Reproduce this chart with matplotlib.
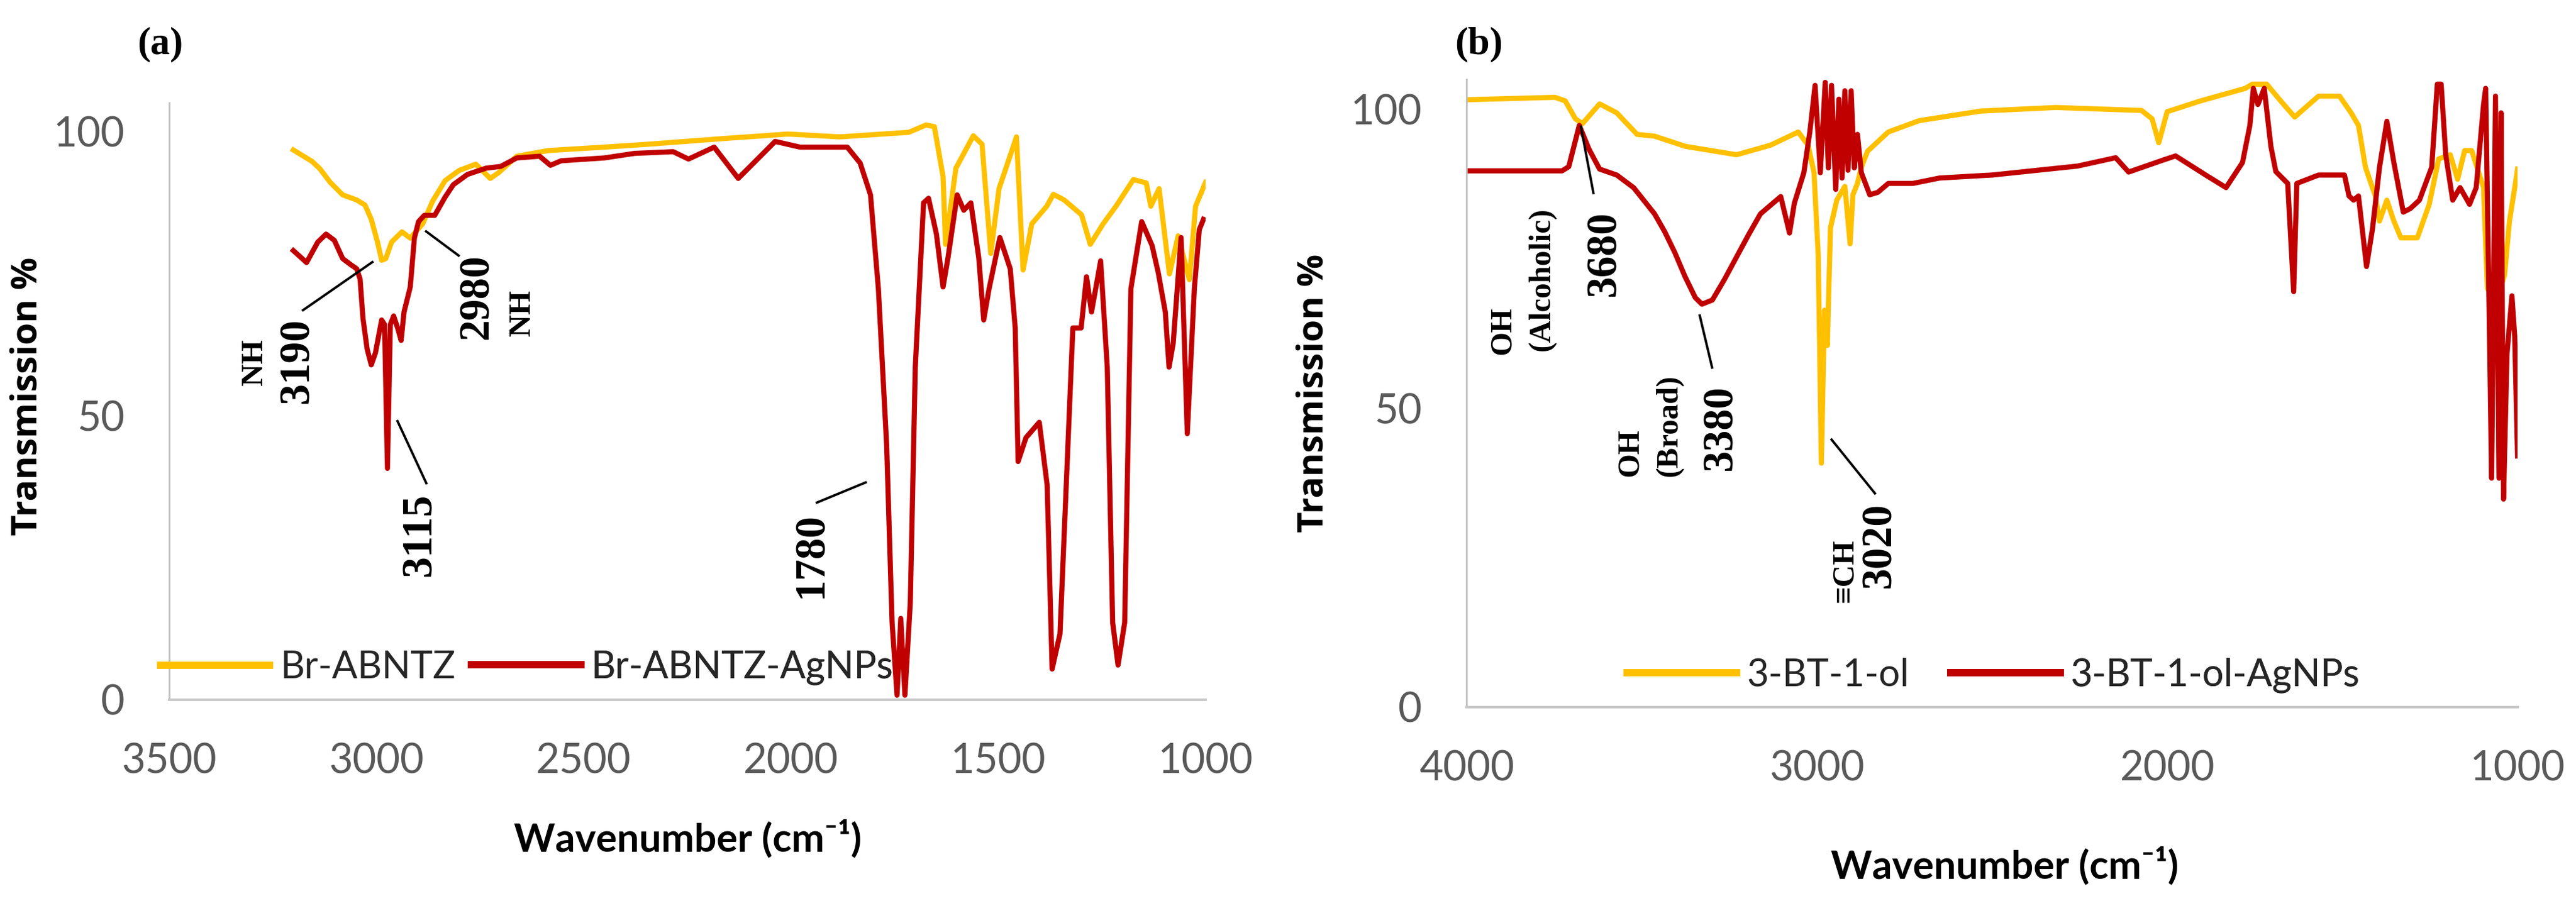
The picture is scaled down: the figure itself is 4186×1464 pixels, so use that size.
import matplotlib
matplotlib.use("Agg")
import matplotlib.pyplot as plt

# ---- data ----
# (a) Br-ABNTZ / Br-ABNTZ-AgNPs
wn_a_base = [3200, 3155, 3136, 3111, 3081, 3047, 3027, 3012, 2997, 2987, 2977, 2963, 2938, 2918,
             2888, 2864, 2834, 2800, 2760, 2725, 2705, 2661, 2585, 2450, 2346, 2164, 2007, 1882,
             1716, 1674, 1654, 1633, 1627, 1602, 1560, 1539, 1518, 1498, 1456, 1440, 1419, 1383,
             1367, 1341, 1299, 1278, 1247, 1216, 1174, 1143, 1132, 1112, 1087, 1066, 1039, 1024, 1000]
t_a_base = [96.7, 94.7, 93.4, 91.0, 88.8, 87.9, 87.0, 84.5, 80.5, 77.3, 77.6, 80.5, 82.3, 81.2,
            83.7, 87.7, 91.3, 93.1, 94.2, 91.7, 92.7, 95.6, 96.6, 97.2, 97.7, 98.7, 99.5, 99.0,
            99.8, 101.1, 100.8, 92.0, 80.1, 93.5, 99.2, 97.7, 78.5, 89.9, 99.0, 75.6, 83.7, 86.8,
            88.9, 87.9, 85.3, 80.1, 83.7, 86.8, 91.5, 90.9, 86.8, 89.9, 74.9, 81.6, 73.9, 86.8, 91.0]

wn_a_ag = [3200, 3168, 3141, 3121, 3101, 3081, 3061, 3047, 3039, 3032, 3022, 3012, 3002, 2987,
           2980, 2973, 2966, 2958, 2948, 2940, 2933, 2918, 2908, 2898, 2884, 2859, 2834, 2814,
           2780, 2735, 2700, 2661, 2606, 2580, 2554, 2450, 2377, 2284, 2247, 2185, 2127, 2038,
           1978, 1864, 1833, 1808, 1789, 1769, 1756, 1744, 1735, 1725, 1712, 1700, 1680, 1668,
           1649, 1633, 1621, 1599, 1583, 1566, 1547, 1535, 1522, 1496, 1471, 1459, 1452, 1433,
           1401, 1382, 1370, 1351, 1320, 1300, 1287, 1275, 1253, 1237, 1224, 1211, 1195, 1180,
           1154, 1129, 1114, 1097, 1088, 1078, 1059, 1044, 1027, 1015, 1005]
t_a_ag = [79.0, 76.9, 80.5, 81.9, 80.8, 77.6, 76.5, 75.8, 74.0, 67.1, 61.7, 58.9, 61.0, 66.8,
          66.0, 40.7, 66.0, 67.5, 65.3, 63.2, 68.2, 72.6, 81.2, 84.1, 85.2, 85.2, 88.4, 90.6,
          92.4, 93.5, 93.8, 95.3, 95.6, 94.0, 94.8, 95.3, 96.1, 96.4, 95.1, 97.2, 91.7, 98.2,
          97.2, 97.2, 94.4, 88.8, 72.3, 44.7, 13.6, 0.8, 14.3, 0.8, 17.1, 58.5, 87.4, 88.2,
          81.9, 72.6, 77.8, 88.8, 86.1, 87.4, 77.8, 66.8, 72.3, 81.3, 75.8, 65.4, 41.9, 46.1,
          48.8, 37.8, 5.4, 11.6, 65.4, 65.4, 74.4, 68.2, 77.2, 58.5, 13.6, 6.1, 13.6, 72.3,
          84.1, 79.9, 75.1, 68.2, 58.5, 62.7, 81.3, 46.8, 72.3, 82.7, 84.5]

# (b) 3-BT-1-ol / 3-BT-1-ol-AgNPs
wn_b_base = [4000, 3747, 3718, 3689, 3669, 3620, 3571, 3513, 3463, 3375, 3229, 3132, 3053, 3025,
             3008, 2996, 2987, 2978, 2970, 2961, 2943, 2920, 2905, 2897, 2884, 2873, 2855, 2796,
             2708, 2532, 2318, 2073, 2043, 2024, 2000, 1905, 1777, 1757, 1716, 1676, 1636, 1609,
             1568, 1508, 1475, 1454, 1434, 1406, 1394, 1373, 1353, 1333, 1286, 1252, 1225, 1192,
             1171, 1151, 1131, 1097, 1086, 1060, 1037, 1023, 1005, 1000]
t_b_base = [101.6, 102.0, 101.4, 98.4, 97.6, 100.9, 99.4, 95.8, 95.5, 93.8, 92.4, 94.0, 96.2, 94.0,
            89.4, 75.6, 40.8, 66.4, 60.5, 80.2, 84.8, 87.1, 77.5, 85.7, 87.6, 90.3, 93.0, 96.2,
            98.1, 99.7, 100.3, 99.8, 98.4, 94.4, 99.6, 101.4, 103.5, 104.2, 104.2, 101.4, 98.7, 100.1,
            102.2, 102.2, 99.4, 97.3, 90.3, 85.5, 81.3, 84.8, 81.3, 78.5, 78.5, 84.1, 91.7, 92.4,
            88.3, 93.1, 93.1, 86.9, 70.0, 68.0, 72.3, 81.3, 88.0, 90.0]

wn_b_ag = [4000, 3727, 3708, 3678, 3650, 3620, 3571, 3523, 3463, 3434, 3405, 3376, 3347, 3328,
           3298, 3264, 3229, 3195, 3161, 3103, 3078, 3064, 3037, 3020, 3005, 2990, 2976, 2967,
           2958, 2946, 2937, 2928, 2920, 2911, 2902, 2893, 2884, 2873, 2849, 2826, 2796, 2726,
           2650, 2532, 2500, 2256, 2147, 2110, 2012, 1976, 1890, 1832, 1785, 1764, 1754, 1741,
           1723, 1704, 1690, 1656, 1639, 1630, 1568, 1494, 1481, 1468, 1454, 1431, 1414, 1394,
           1373, 1353, 1326, 1306, 1280, 1245, 1229, 1218, 1205, 1185, 1164, 1137, 1118, 1097,
           1091, 1081, 1074, 1063, 1053, 1047, 1040, 1030, 1016, 1008, 1000]
t_b_ag = [89.7, 89.7, 90.4, 97.3, 93.3, 90.0, 89.0, 86.9, 82.5, 79.5, 76.0, 72.0, 68.5, 67.4,
          68.1, 71.5, 75.3, 79.0, 82.5, 85.4, 79.3, 84.3, 89.4, 96.2, 104.0, 89.4, 104.5, 90.2,
          104.0, 86.6, 101.7, 88.5, 103.1, 89.8, 103.1, 90.2, 95.8, 89.4, 85.7, 86.1, 87.6, 87.6,
          88.5, 88.9, 89.0, 90.5, 91.9, 89.5, 91.5, 92.2, 89.0, 86.9, 91.1, 97.3, 103.5, 100.8,
          103.5, 93.8, 89.6, 87.6, 69.5, 87.6, 89.0, 89.0, 85.5, 84.8, 85.5, 73.7, 80.0, 90.3,
          98.0, 91.1, 82.8, 83.4, 84.8, 90.3, 104.2, 104.2, 92.4, 84.8, 86.9, 84.1, 86.9, 100.8,
          103.5, 66.1, 38.3, 102.2, 38.3, 99.4, 34.8, 59.1, 68.8, 62.0, 42.0]

labels_a = ["Br-ABNTZ", "Br-ABNTZ-AgNPs"]
labels_b = ["3-BT-1-ol", "3-BT-1-ol-AgNPs"]
xticks_a = [3500, 3000, 2500, 2000, 1500, 1000]
xticks_b = [4000, 3000, 2000, 1000]
yticks = [0, 50, 100]

YEL = "#FFC000"
RED = "#C00000"
LW = 6.0
W, H = 4186, 1464

fig = plt.figure(figsize=(W / 100, H / 100), dpi=100)


def fx(px):
    return px / W


def fy(py):
    return 1 - py / H


def setup(ax, xlim, xticks):
    ax.set_xlim(*xlim)
    ax.set_ylim(0, 105)
    ax.set_xticks(xticks)
    ax.set_yticks(yticks)
    for s in ["top", "right"]:
        ax.spines[s].set_visible(False)
    ax.spines["left"].set_color("#c0c0c0")
    ax.spines["left"].set_linewidth(2)
    ax.spines["bottom"].set_color("#c8c8c8")
    ax.spines["bottom"].set_linewidth(3)
    ax.tick_params(length=0, labelsize=48, labelcolor="#595959")
    ax.tick_params(axis="x", pad=50)
    ax.tick_params(axis="y", pad=52)
    for lab in ax.get_xticklabels() + ax.get_yticklabels():
        lab.set_fontfamily("Lato")


def legend_entry(ax, line, text, xf, yf):
    leg = ax.legend([line], [text], loc="center left", bbox_to_anchor=(xf, yf),
                    frameon=False, borderpad=0, borderaxespad=0, handlelength=2.9,
                    handletextpad=0.28, prop={"family": "Lato", "size": 44})
    leg.get_lines()[0].set_linewidth(8.5)
    for t in leg.get_texts():
        t.set_color("#262626")
    ax.add_artist(leg)


serif = ["Liberation Serif", "DejaVu Serif"]


def note(ax, x, y, s, size=50, rot=90):
    ax.text(x, y, s, rotation=rot, ha="center", va="center", fontsize=size,
            fontweight="bold", family=serif, color="black")


def leader(ax, p, q):
    ax.plot([p[0], q[0]], [p[1], q[1]], color="black", lw=2.8, solid_capstyle="butt")


# ---------- panel (a) ----------
ax1 = fig.add_axes([fx(274.5), fy(1137), fx(1959) - fx(274.5), fy(167) - fy(1137)])
la1, = ax1.plot(wn_a_base, t_a_base, color=YEL, lw=LW, solid_joinstyle="round")
la2, = ax1.plot(wn_a_ag, t_a_ag, color=RED, lw=LW, solid_joinstyle="round")
setup(ax1, (3500, 1000), xticks_a)
legend_entry(ax1, la1, labels_a[0], -0.008, 0.054)
legend_entry(ax1, la2, labels_a[1], 0.292, 0.054)

leader(ax1, (3179, 68.4), (3007, 77.1))
note(ax1, 3189, 59.6, "3190")
note(ax1, 3293, 59.4, "NH", size=36)
leader(ax1, (2882, 82.5), (2799, 78.0))
note(ax1, 2757, 70.8, "2980")
note(ax1, 2648, 68.0, "NH", size=36)
leader(ax1, (2950, 49.2), (2878, 37.9))
note(ax1, 2894, 29.0, "3115")
leader(ax1, (1940, 34.6), (1817, 38.3))
note(ax1, 1950, 25.4, "1780")

# ---------- panel (b) ----------
ax2 = fig.add_axes([fx(2383), fy(1149), fx(4091) - fx(2383), fy(129) - fy(1149)])
lb1, = ax2.plot(wn_b_base, t_b_base, color=YEL, lw=LW, solid_joinstyle="round")
lb2, = ax2.plot(wn_b_ag, t_b_ag, color=RED, lw=LW, solid_joinstyle="round")
setup(ax2, (4000, 1000), xticks_b)
legend_entry(ax2, lb1, labels_b[0], 0.153, 0.051)
legend_entry(ax2, lb2, labels_b[1], 0.461, 0.051)

leader(ax2, (3674, 97.3), (3637, 85.8))
note(ax2, 3606, 75.8, "3680")
note(ax2, 3785, 71.6, "(Alcoholic)", size=36)
note(ax2, 3896, 63.0, "OH", size=36)
leader(ax2, (3335, 65.7), (3298, 56.6))
note(ax2, 3273, 46.7, "3380")
note(ax2, 3421, 47.1, "(Broad)", size=36)
note(ax2, 3532, 42.6, "OH", size=36)
leader(ax2, (2960, 44.9), (2832, 35.6))
note(ax2, 2821, 27.0, "3020")
note(ax2, 2920, 22.8, "\u2261CH", size=36)

# ---------- axis titles and panel tags ----------
xlab = "Wavenumber (cm\u207b\u00b9)"
sans = ["Lato", "DejaVu Sans"]
fig.text(fx(1118), fy(1363), xlab, ha="center", va="center", fontsize=46,
         fontweight="bold", family=sans)
fig.text(fx(3258), fy(1407), xlab, ha="center", va="center", fontsize=46,
         fontweight="bold", family=sans)
fig.text(fx(45), fy(644), "Transmission %", rotation=90, ha="center", va="center",
         fontsize=42, fontweight="bold", family="Open Sans")
fig.text(fx(2135), fy(639), "Transmission %", rotation=90, ha="center", va="center",
         fontsize=42, fontweight="bold", family="Open Sans")
fig.text(fx(260), fy(72), "(a)", ha="center", va="center", fontsize=46,
         fontweight="bold", family=serif)
fig.text(fx(2403), fy(72), "(b)", ha="center", va="center", fontsize=46,
         fontweight="bold", family=serif)

fig.savefig("out.png", dpi=100, facecolor="white")
